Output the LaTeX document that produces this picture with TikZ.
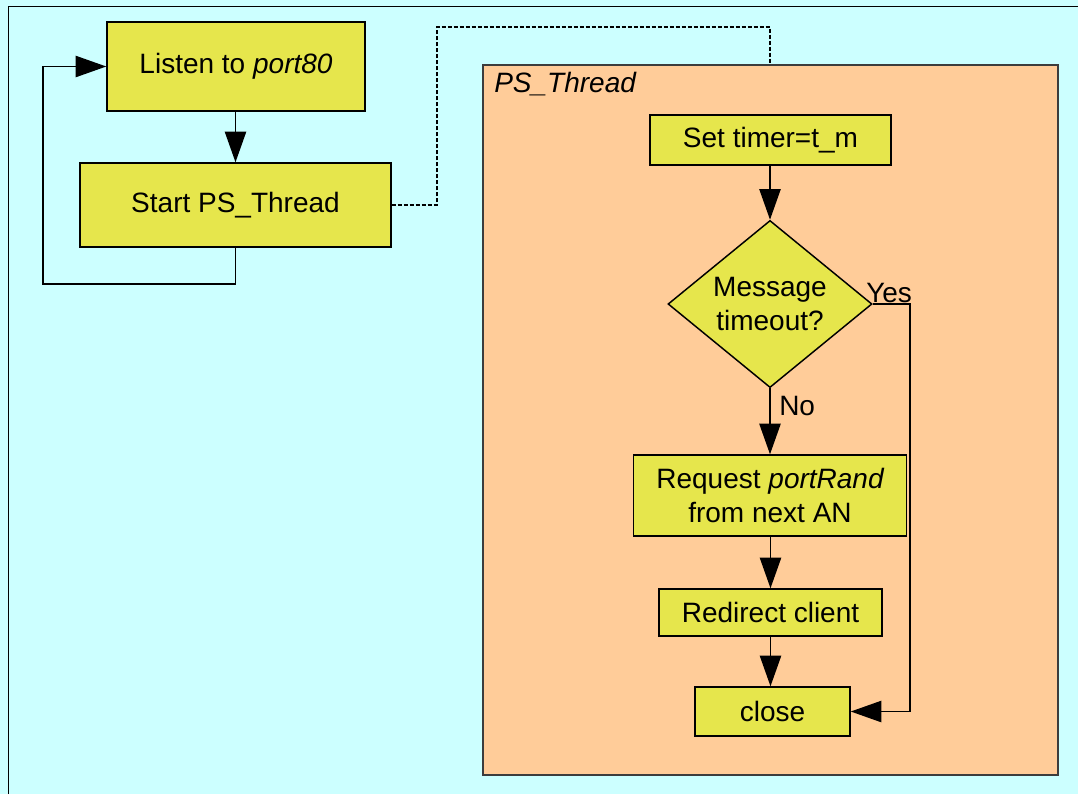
\documentclass[tikz,border=0pt]{standalone}
\usepackage{fontspec}
\setmainfont{Liberation Sans}
\usetikzlibrary{arrows.meta,shapes.geometric}
\definecolor{bgcyan}{RGB}{204,255,255}
\definecolor{boxyel}{RGB}{230,230,76}
\definecolor{psorange}{RGB}{255,204,153}
\definecolor{psedge}{RGB}{60,60,60}
\tikzset{
  procbox/.style={draw=black, line width=1.1pt, fill=boxyel, rectangle, inner sep=0pt, align=center,
    font=\fontsize{21}{25.5}\selectfont},
  decbox/.style={draw=black, line width=1.1pt, fill=boxyel, diamond, inner sep=0pt, align=center,
    font=\fontsize{21}{25.5}\selectfont},
  arr/.style={draw=black, line width=1.1pt, -{Triangle[length=23pt,width=16pt]}},
  plainline/.style={draw=black, line width=1.1pt},
  dashline/.style={draw=black, line width=0.8pt, dash pattern=on 3pt off 1.5pt},
  lbl/.style={font=\fontsize{21}{25.5}\selectfont, inner sep=0pt},
}
\begin{document}
\begin{tikzpicture}[x=0.75pt, y=-0.75pt]
\useasboundingbox (0,0) rectangle (1078,794);
\fill[bgcyan] (0,0) rectangle (1078,794);
\draw[line width=1.4pt] (8.5,794) -- (8.5,6.5) -- (1078,6.5);

% PS_Thread container
\node[draw=psedge, line width=1.6pt, fill=psorange, rectangle, inner sep=0pt,
      minimum width=575*0.75pt, minimum height=710*0.75pt] (ps) at (770.5,420) {};
\node[lbl, anchor=base west] (pslbl) at (494,92) {\itshape PS\_Thread};

% left loop
\node[procbox, minimum width=258*0.75pt, minimum height=89*0.75pt] (listen) at (236,66.5) {Listen to \itshape port80};
\node[procbox, minimum width=311*0.75pt, minimum height=84*0.75pt] (start) at (235.5,205) {Start PS\_Thread};
\draw[arr] (listen.south -| start.north) -- (start.north);
\coordinate (lp) at (43,284);
\draw[arr] (start.south) |- (lp) |- (listen.west);

% dashed link
\coordinate (d1) at (437,27);
\coordinate (d2) at (770,27);
\draw[dashline] (start.east) -| (d1) -- (d2) -- (d2 |- ps.north);

% thread flow
\node[procbox, minimum width=241*0.75pt, minimum height=50*0.75pt] (timer) at (770.5,140) {Set timer=t\_m};
\node[decbox, minimum width=204*0.75pt, minimum height=158*0.75pt] (dec) at (770,304) {Message\\timeout?};
\node[procbox, minimum width=273*0.75pt, minimum height=81*0.75pt] (req) at (770,495.5) {Request \itshape portRand\\from next AN};
\node[procbox, minimum width=223*0.75pt, minimum height=47*0.75pt] (redir) at (770.5,612.5) {Redirect client};
\node[procbox, minimum width=155*0.75pt, minimum height=49*0.75pt] (close) at (772.5,711.5) {close};

\draw[arr] (timer.south -| dec.north) -- (dec.north);
\draw[arr] (dec.south) -- (dec.south |- req.north);
\draw[arr] (req.south -| redir.north) -- (redir.north);
\draw[arr] (redir.south) -- (redir.south |- close.north);
\coordinate (yr) at (910,304);
\draw[arr] (dec.east) -- (yr) |- (close.east);

\node[lbl, anchor=base west] (yes) at (866,302) {Yes};
\node[lbl, anchor=base west] (no) at (779,415) {No};
\end{tikzpicture}
\end{document}
